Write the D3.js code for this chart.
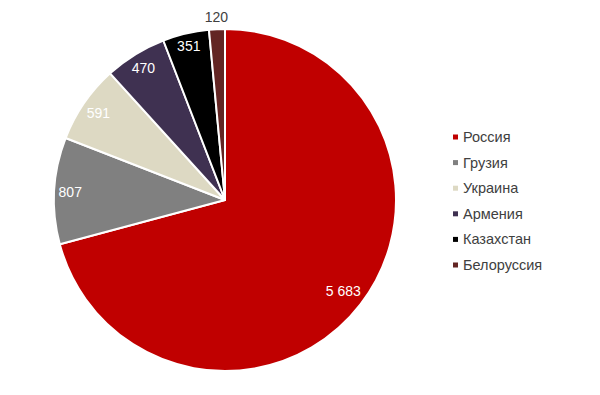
<!DOCTYPE html>
<html>
<head>
<meta charset="utf-8">
<script src="https://cdn.jsdelivr.net/npm/d3@7"></script>
<style>
  body { margin: 0; background: #fff; }
  svg { display: block; font-family: "Liberation Sans", Arial, sans-serif; }
</style>
</head>
<body>
<div class="chart"></div>
<script>
// Data
const countries = ["Россия", "Грузия", "Украина", "Армения", "Казахстан", "Белоруссия"];
const values = [5683, 807, 591, 470, 351, 120];
const valueLabels = ["5 683", "807", "591", "470", "351", "120"];
const colors = ["#c00000", "#808080", "#ddd9c3", "#3f3151", "#000000", "#632523"];
const outsideLabel = [false, false, false, false, false, true];

const width = 600, height = 395;
const cx = 225, cy = 200, radius = 171;

const svg = d3.select(".chart")
  .append("svg")
  .attr("width", width)
  .attr("height", height);

const pie = d3.pie().sort(null).value(d => d)(values);
const arc = d3.arc().innerRadius(0).outerRadius(radius);

const g = svg.append("g").attr("transform", `translate(${cx}, ${cy})`);

g.selectAll("path")
  .data(pie)
  .enter()
  .append("path")
  .attr("d", arc)
  .attr("fill", (d, i) => colors[i])
  .attr("stroke", "#fff")
  .attr("stroke-width", 2)
  .attr("stroke-linejoin", "round");

// labels (Excel-like "inside end", small slice outside)
const fontSize = 14;
g.selectAll("text.val")
  .data(pie)
  .enter()
  .append("text")
  .attr("class", "val")
  .attr("font-size", fontSize)
  .attr("text-anchor", "middle")
  .attr("dominant-baseline", "central")
  .attr("fill", (d, i) => outsideLabel[i] ? "#404040" : "#fff")
  .text((d, i) => valueLabels[i])
  .each(function (d, i) {
    const a = (d.startAngle + d.endAngle) / 2;
    const s = Math.sin(a), c = Math.cos(a);
    const w = this.getComputedTextLength();
    const half = Math.abs(w / 2 * s) + Math.abs(fontSize * 0.47 * c);
    const dist = outsideLabel[i] ? radius + 5 + half : radius - 4 - half;
    d3.select(this)
      .attr("x", dist * s)
      .attr("y", -dist * c);
  });

// legend
const legendY = d3.scalePoint()
  .domain(countries)
  .range([137, 265]);

const legend = svg.append("g");
const items = legend.selectAll("g")
  .data(countries)
  .enter()
  .append("g")
  .attr("transform", d => `translate(453, ${legendY(d)})`);

items.append("rect")
  .attr("x", 0)
  .attr("y", -2.5)
  .attr("width", 5)
  .attr("height", 5)
  .attr("fill", (d, i) => colors[i]);

items.append("text")
  .attr("x", 10)
  .attr("dominant-baseline", "central")
  .attr("font-size", 14.5)
  .attr("fill", "#404040")
  .text(d => d);
</script>
</body>
</html>
